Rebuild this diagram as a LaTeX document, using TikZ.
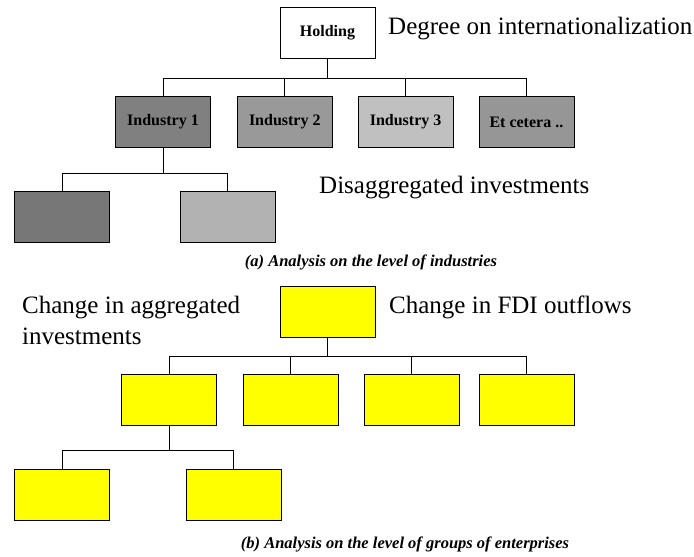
\documentclass[tikz,border=0pt]{standalone}
\usepackage{fontspec}
\setmainfont{Liberation Serif}
\usetikzlibrary{positioning}

\definecolor{indA}{HTML}{808080}
\definecolor{indB}{HTML}{999999}
\definecolor{indC}{HTML}{C0C0C0}
\definecolor{indD}{HTML}{969696}
\definecolor{subA}{HTML}{777777}
\definecolor{subB}{HTML}{B2B2B2}
\definecolor{grpY}{HTML}{FFFF00}

\begin{document}
\begin{tikzpicture}[
    x=1pt, y=-1pt,
    box/.style={rectangle, draw, line width=0.8pt, minimum width=95pt, minimum height=51pt, inner sep=0pt, font=\fontsize{16}{18}\selectfont\bfseries},
    ybox/.style={box, fill=grpY},
    note/.style={anchor=base west, inner sep=0pt, align=left, font=\fontsize{25}{31}\selectfont},
    caption/.style={anchor=base, inner sep=0pt, font=\fontsize{16.5}{18}\selectfont\bfseries\itshape},
    link/.style={line width=0.8pt}
]
\useasboundingbox (0,0) rectangle (694,557);

% (a) Industries
\node[box] (holding) at (327.5,33) {Holding};
\node[note] (degree) at (388,34) {Degree on internationalization};

\node[box, fill=indA] (ind1) at (163,122) {Industry 1};
\node[box, fill=indB, right=26pt of ind1] (ind2) {Industry 2};
\node[box, fill=indC, right=25pt of ind2] (ind3) {Industry 3};
\node[box, fill=indD, right=25pt of ind3] (ind4) {Et cetera ..};

\node[box, fill=subA] (sub1) at (62,216.5) {};
\node[box, fill=subB, right=70pt of sub1] (sub2) {};
\node[note] (disagg) at (319,193) {Disaggregated investments};

\draw[link] (holding.south) -- ++(0,19) coordinate (busA);
\foreach \n in {ind1,ind2,ind3,ind4}
    \draw[link] (busA) -| (\n.north);
\draw[link] (ind1.south) -- ++(0,25) coordinate (busB);
\foreach \n in {sub1,sub2}
    \draw[link] (busB) -| (\n.north);

\node[caption] (capA) at (371,266) {(a) Analysis on the level of industries};

% (b) Groups of enterprises
\node[ybox] (group) at (327.5,311.5) {};
\node[note] (fdi) at (389,313) {Change in FDI outflows};
\node[note] (aggr) at (22,344) {Change in aggregated\\investments};

\node[ybox] (ent1) at (169,399.5) {};
\node[ybox, right=26pt of ent1] (ent2) {};
\node[ybox, right=25pt of ent2] (ent3) {};
\node[ybox, right=19pt of ent3] (ent4) {};

\node[ybox] (part1) at (62,494.5) {};
\node[ybox, right=76pt of part1] (part2) {};

\draw[link] (group.south) -- ++(0,19) coordinate (busC);
\foreach \n in {ent1,ent2,ent3,ent4}
    \draw[link] (busC) -| (\n.north);
\draw[link] (ent1.south) -- ++(0,25) coordinate (busD);
\foreach \n in {part1,part2}
    \draw[link] (busD) -| (\n.north);

\node[caption] (capB) at (405,548) {(b) Analysis on the level of groups of enterprises};

\end{tikzpicture}
\end{document}
